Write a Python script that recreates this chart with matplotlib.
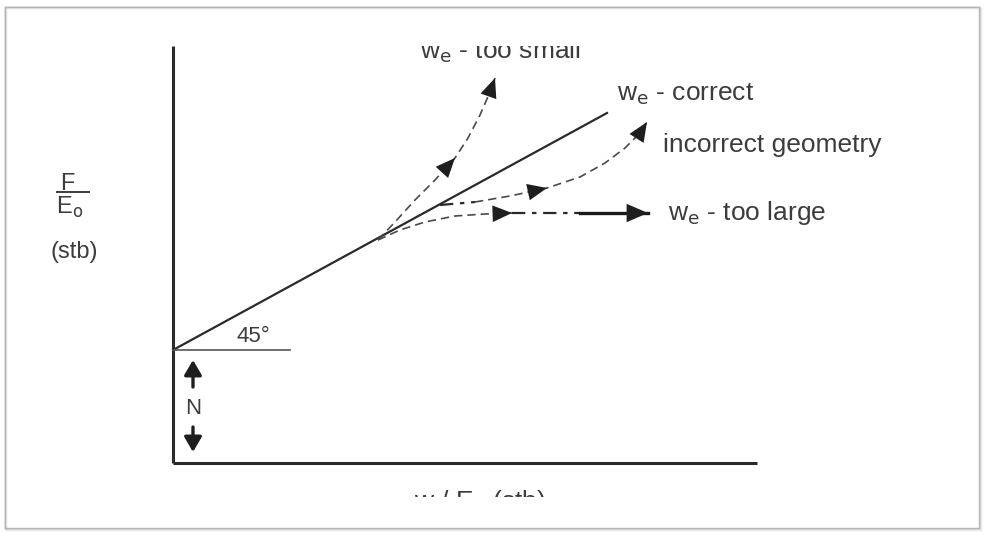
import matplotlib.pyplot as plt
from matplotlib.patches import Rectangle

plt.rcParams['font.family'] = ['Liberation Sans', 'DejaVu Sans']

# schematic values, origin at the axes corner
correct_x = [0, 434]
correct_y = [113, 350]
ref45_x = [0, 117]
ref45_y = [113, 113]

small_x = [205, 222, 242, 262, 282, 295, 307, 317, 322]
small_y = [223, 241, 263, 283, 305, 325, 348, 371, 385]

geom_lead_x = [267, 302]
geom_lead_y = [258, 261]
geom_x = [302, 337, 374, 407, 432, 452, 467, 474]
geom_y = [261, 267, 275, 286, 300, 315, 330, 341]

large_x = [205, 227, 252, 282, 312, 339]
large_y = [223, 233, 241, 247, 249, 250]
large_dd_x = [339, 407]
large_dd_y = [250, 250]
large_solid_x = [407, 475]
large_solid_y = [250, 250]

labels = [r"w$_\mathrm{e}$ - too small", r"w$_\mathrm{e}$ - correct",
          "incorrect geometry", r"w$_\mathrm{e}$ - too large"]
label_xy = [(247, 405), (444, 363), (490, 311), (495, 243)]

TXT = '#3c3c3c'
CURVE = '#4a4a4a'

fig = plt.figure(figsize=(9.84, 5.38), dpi=100)
W, H = 984, 538

# picture frame with soft shadow
for i, a in enumerate([0.25, 0.15, 0.08]):
    fig.patches.append(Rectangle(((5 + i) / W, (H - 529 - i) / H), 975 / W, 522 / H,
                                 transform=fig.transFigure, fill=False,
                                 edgecolor='#888888', alpha=a, lw=1.2))
fig.patches.append(Rectangle((5 / W, (H - 528) / H), 974 / W, 521 / H,
                             transform=fig.transFigure, fill=False,
                             edgecolor='#b5b5b5', lw=1.0))

ax = fig.add_axes([0, (H - 497) / H, 1, (497 - 46) / H])
ax.set_xlim(-173, 811)
ax.set_ylim(-34, 417)
ax.axis('off')

# axes of the diagram
ax.plot([0, 0], [0, 417], color='#2a2a2a', lw=2.2, solid_capstyle='butt')
ax.plot([0, 584], [0, 0], color='#2a2a2a', lw=2.2, solid_capstyle='butt')

ax.plot(correct_x, correct_y, color='#2a2a2a', lw=1.6)
ax.plot(ref45_x, ref45_y, color='#555555', lw=1.2)

dash = dict(color=CURVE, lw=1.2, linestyle=(0, (5, 3)))
ax.plot(small_x, small_y, **dash)
ax.plot(geom_lead_x, geom_lead_y, color='#2a2a2a', lw=1.6, linestyle=(0, (6, 3, 2, 3)))
ax.plot(geom_x, geom_y, **dash)
ax.plot(large_x, large_y, **dash)
ax.plot(large_dd_x, large_dd_y, color='#2a2a2a', lw=1.6, linestyle=(0, (6, 3, 2, 3)))
ax.plot(large_solid_x, large_solid_y, color='#1a1a1a', lw=2.4)


def head(x, y, i, size=20):
    # arrowhead at point i pointing along the curve
    j = i - 1
    ax.annotate('', xy=(x[i], y[i]), xytext=(x[j], y[j]),
                arrowprops=dict(arrowstyle='-|>,head_length=0.7,head_width=0.3',
                                color='#1e1e1e', lw=0, shrinkA=0, shrinkB=0,
                                mutation_scale=size))


head(small_x, small_y, 4)
head(small_x, small_y, 8)
head(geom_x, geom_y, 2)
head(geom_x, geom_y, 7)
head(large_x, large_y, 5)
head(large_solid_x, large_solid_y, 1, size=22)

# N arrows
ax.annotate('', xy=(20, 103), xytext=(20, 76),
            arrowprops=dict(arrowstyle='-|>,head_length=0.6,head_width=0.35',
                            color='#1e1e1e', lw=2.4, shrinkA=0, shrinkB=0, mutation_scale=15))
ax.annotate('', xy=(20, 11), xytext=(20, 36),
            arrowprops=dict(arrowstyle='-|>,head_length=0.6,head_width=0.35',
                            color='#1e1e1e', lw=2.4, shrinkA=0, shrinkB=0, mutation_scale=15))
ax.text(20, 55, 'N', color=TXT, fontsize=16, ha='center', va='center')
ax.text(80, 126, '45°', color=TXT, fontsize=16, ha='center', va='center')

for s, (x, y) in zip(labels, label_xy):
    ax.text(x, y, s, color=TXT, fontsize=19, ha='left', va='baseline', clip_on=True)

# y label as a fraction
ax.text(-106, 279, 'F', color=TXT, fontsize=17, ha='center', va='center')
ax.plot([-116, -84], [271, 271], color=TXT, lw=1.4)
ax.text(-103, 256, r'E$_\mathrm{o}$', color=TXT, fontsize=17, ha='center', va='center')
ax.text(-99, 211, '(stb)', color=TXT, fontsize=17, ha='center', va='center')

# x label, cut by the bottom of the picture
ax.text(307, -25, r'w / E$_\mathrm{o}$ (stb)', color=TXT, fontsize=19, ha='center',
        va='top', clip_on=True)

fig.savefig('out.png', dpi=100, facecolor='white')
